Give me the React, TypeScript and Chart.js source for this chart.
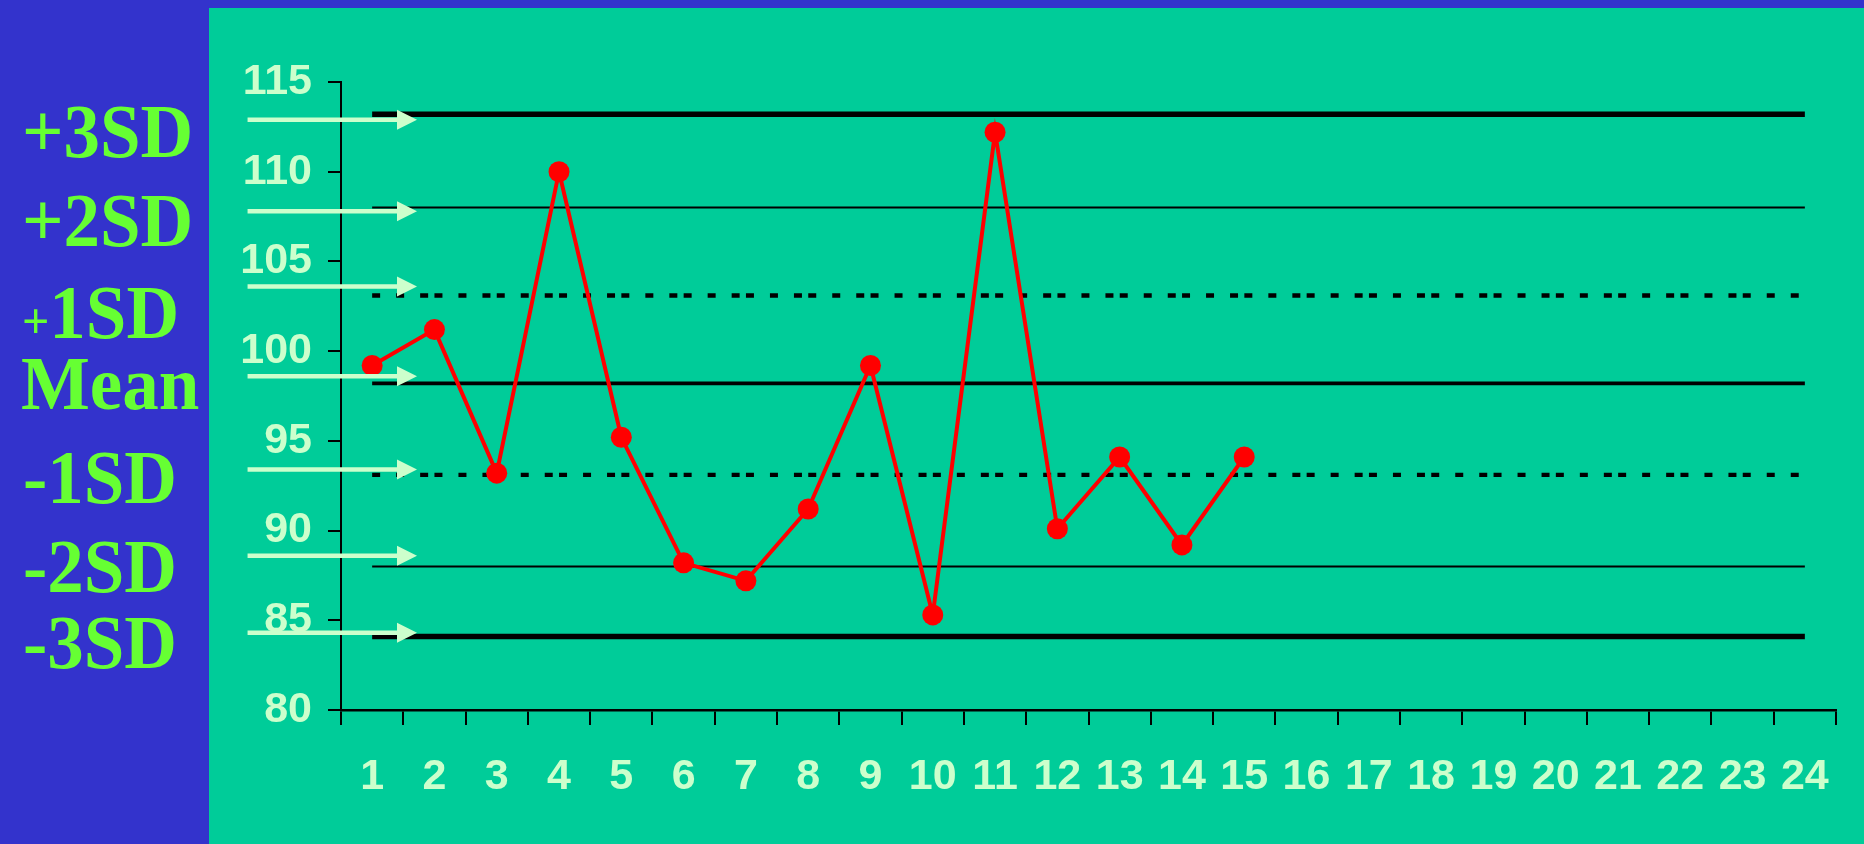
import React, { useEffect, useRef } from "react";
import { Chart, registerables } from "chart.js";

Chart.register(...registerables);

// ---- data ----
const categories = [
  "1", "2", "3", "4", "5", "6", "7", "8", "9", "10", "11", "12",
  "13", "14", "15", "16", "17", "18", "19", "20", "21", "22", "23", "24",
];
const measured = [99.2, 101.2, 93.2, 110.0, 95.2, 88.2, 87.2, 91.2, 99.2, 85.3, 112.2, 90.1, 94.1, 89.2, 94.1];
const sdLabels = ["+3SD", "+2SD", "+1SD", "Mean", "-1SD", "-2SD", "-3SD"];
const sdLevels = [113.2, 108.0, 103.1, 98.2, 93.1, 88.0, 84.1];
const arrowLevels = [112.9, 107.8, 103.6, 98.6, 93.4, 88.6, 84.3];
const yMin = 80;
const yMax = 115;
const yStep = 5;

// ---- styles ----
const BLUE = "#3333CC";
const GREEN = "#00CC99";
const PALE = "#CCFFCC";
const LABEL_GREEN = "#66FF33";
const lineWidths = [5.5, 2, 4.3, 3.8, 4.3, 2, 5.5];
const dotted = [8, 16, 8, 16, 8, 6.3];
const lineDashes = [[], [], dotted, [], dotted, [], []];
const labelBaselines = [157, 246, 338, 409, 503, 592, 668];
const labelX = [22, 22, 22, 21, 23, 23, 23];
const TICK_FONT = { family: "'Liberation Sans', Arial, sans-serif", size: 43, weight: "bold" };

const arrowPlugin = {
  id: "sdArrows",
  afterDatasetsDraw(chart: any) {
    const { ctx } = chart;
    const xs = chart.scales.x;
    const ys = chart.scales.y;
    const x0 = xs.getPixelForValue(-2);
    const x1 = xs.getPixelForValue(0.72);
    ctx.save();
    ctx.strokeStyle = PALE;
    ctx.fillStyle = PALE;
    ctx.lineWidth = 4.5;
    arrowLevels.forEach((lv) => {
      const y = ys.getPixelForValue(lv);
      ctx.beginPath();
      ctx.moveTo(x0, y);
      ctx.lineTo(x1 - 16, y);
      ctx.stroke();
      ctx.beginPath();
      ctx.moveTo(x1 - 20, y - 10);
      ctx.lineTo(x1, y);
      ctx.lineTo(x1 - 20, y + 10);
      ctx.closePath();
      ctx.fill();
    });
    ctx.restore();
  },
};

export default function App() {
  const canvasRef = useRef<HTMLCanvasElement | null>(null);

  useEffect(() => {
    if (!canvasRef.current) return;
    const controlSets = sdLevels.map((lv, i) => ({
      label: sdLabels[i],
      data: categories.map(() => lv),
      borderColor: "#000000",
      borderWidth: lineWidths[i],
      borderDash: lineDashes[i],
      pointRadius: 0,
      pointHoverRadius: 0,
      fill: false,
      tension: 0,
    }));
    const chart = new Chart(canvasRef.current, {
      type: "line",
      data: {
        labels: categories,
        datasets: [
          {
            label: "value",
            data: measured,
            borderColor: "#FF0000",
            borderWidth: 4,
            pointRadius: 10.5,
            pointBackgroundColor: "#FF0000",
            pointBorderColor: "#FF0000",
            pointBorderWidth: 0,
            fill: false,
            tension: 0,
          },
          ...controlSets,
        ],
      },
      options: {
        animation: false,
        responsive: false,
        maintainAspectRatio: false,
        events: [],
        layout: { padding: { left: 0, right: 28, top: 74, bottom: 0 } },
        plugins: {
          legend: { display: false },
          tooltip: { enabled: false },
          title: { display: false },
        },
        scales: {
          x: {
            type: "category",
            offset: true,
            afterFit: (s: any) => {
              s.height = 134;
            },
            grid: {
              offset: true,
              drawOnChartArea: false,
              drawTicks: true,
              tickLength: 15,
              color: "#000000",
              lineWidth: 2,
            },
            border: { display: true, color: "#000000", width: 2.5 },
            ticks: {
              color: PALE,
              font: TICK_FONT,
              padding: 26,
              maxRotation: 0,
              minRotation: 0,
              autoSkip: false,
            },
          },
          y: {
            min: yMin,
            max: yMax,
            afterFit: (s: any) => {
              s.width = 132;
            },
            grid: {
              drawOnChartArea: false,
              drawTicks: true,
              tickLength: 13,
              color: "#000000",
              lineWidth: 2,
            },
            border: { display: true, color: "#000000", width: 2 },
            ticks: {
              stepSize: yStep,
              color: PALE,
              font: TICK_FONT,
              padding: 16,
            },
          },
        },
      },
      plugins: [arrowPlugin],
    } as any);
    return () => chart.destroy();
  }, []);

  return (
    <div
      style={{
        position: "fixed",
        left: 0,
        top: 0,
        width: 1864,
        height: 844,
        background: BLUE,
        overflow: "hidden",
      }}
    >
      <svg
        width={209}
        height={844}
        style={{ position: "absolute", left: 0, top: 0 }}
      >
        {sdLabels.map((t, i) => (
          <text
            key={t}
            transform={`translate(${labelX[i]},${labelBaselines[i]}) scale(0.96,1)`}
            fill={LABEL_GREEN}
            fontFamily="'Liberation Serif', 'Times New Roman', serif"
            fontWeight="bold"
            fontSize={76}
          >
            {t === "+1SD" ? (
              <>
                <tspan fontSize={50}>+</tspan>
                <tspan>1SD</tspan>
              </>
            ) : (
              t
            )}
          </text>
        ))}
      </svg>
      <div
        style={{
          position: "absolute",
          left: 209,
          top: 8,
          width: 1655,
          height: 836,
          background: GREEN,
        }}
      >
        <canvas ref={canvasRef} width={1655} height={836} style={{ display: "block" }} />
      </div>
    </div>
  );
}
